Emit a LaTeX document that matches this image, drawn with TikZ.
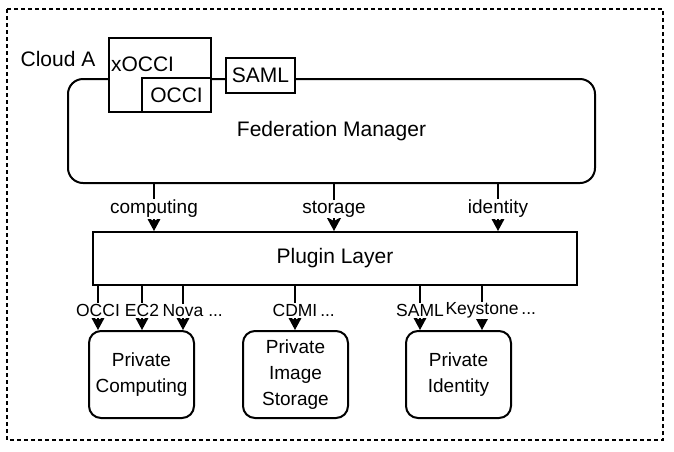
\documentclass[tikz,border=0pt]{standalone}
\usepackage{fontspec}
\setmainfont{Liberation Sans}
\usetikzlibrary{arrows,arrows.meta}

\begin{document}
\begin{tikzpicture}[x=1pt,y=-1pt,>={Stealth[length=14pt,width=15pt,inset=4pt]},line width=2pt,
  font=\fontsize{21}{26}\selectfont,
  box/.style={draw,fill=white,inner sep=0pt},
  rbox/.style={box,rounded corners=12pt,align=center,font=\fontsize{19}{26}\selectfont},
  lbl/.style={fill=white,inner sep=1pt,font=\fontsize{19}{22}\selectfont},
  sublbl/.style={lbl,font=\fontsize{17.5}{20}\selectfont}]

\useasboundingbox (0,0) rectangle (674,451);
\draw[dash pattern=on 4pt off 3pt,line width=1.5pt] (7,9) rectangle (663,440);

\node (cloud) at (58,59) {Cloud A};
\node[box,rounded corners=15pt,minimum width=527pt,minimum height=104pt] (fm) at (331.5,131) {Federation Manager};
\node[box,minimum width=102pt,minimum height=74pt,
  label={[anchor=west,inner sep=2pt,yshift=11pt]west:xOCCI}] (xocci) at (160,75) {};
\node[box,minimum width=69pt,minimum height=34pt] (occi) at (176.5,95) {OCCI};
\node[box,minimum width=69pt,minimum height=35pt] (saml) at (260.5,75.5) {SAML};

\node[box,minimum width=484pt,minimum height=53pt] (pl) at (335,258.5) {Plugin Layer};

\node[rbox,minimum width=105pt,minimum height=87pt] (pc) at (141.5,374.5) {Private\\Computing};
\node[rbox,minimum width=105pt,minimum height=87pt] (ps) at (295.5,374.5) {Private\\Image\\Storage};
\node[rbox,minimum width=105pt,minimum height=87pt] (pi) at (458.5,374.5) {Private\\Identity};

% federation manager to plugins
\path[->] (154,0 |- fm.south) edge node[lbl,pos=.53]{computing} (154,0 |- pl.north)
          (334,0 |- fm.south) edge node[lbl,pos=.53]{storage} (334,0 |- pl.north)
          (498,0 |- fm.south) edge node[lbl,pos=.53]{identity} (498,0 |- pl.north);

% plugins to private clouds
\path[->] (98,0 |- pl.south) edge node[sublbl,pos=.56]{OCCI} (98,0 |- pc.north)
          (142,0 |- pl.south) edge node[sublbl,pos=.56]{EC2} (142,0 |- pc.north)
          (183,0 |- pl.south) edge node[sublbl,pos=.56]{Nova\rlap{\ ...}} (183,0 |- pc.north)
          (295,0 |- pl.south) edge node[sublbl,pos=.56]{CDMI\rlap{\,...}} (295,0 |- ps.north)
          (420,0 |- pl.south) edge node[sublbl,pos=.56]{SAML} (420,0 |- pi.north)
          (482,0 |- pl.south) edge node[sublbl,pos=.56]{Keystone\rlap{\,...}} (482,0 |- pi.north);

\end{tikzpicture}
\end{document}
